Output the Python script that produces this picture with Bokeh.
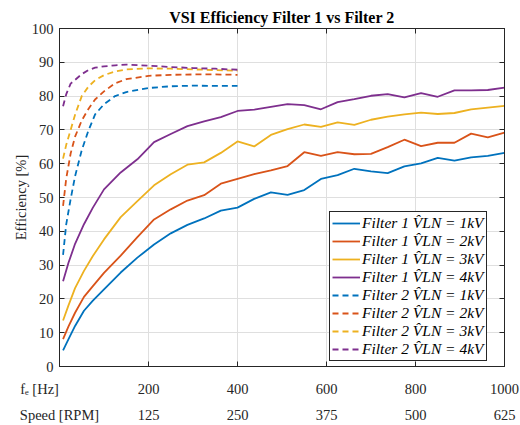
from bokeh.plotting import figure
from bokeh.models import FixedTicker, LinearAxis, Legend, LegendItem, Range1d
from bokeh.embed import file_html
from bokeh.resources import INLINE

# ---------------- data ----------------
# Filter 1 (solid lines), electrical frequency in Hz
freq_f1 = [8, 20, 35, 55, 75, 100, 137.5, 175, 212.5, 250, 287.5, 325, 362.5, 400,
           437.5, 475, 512.5, 550, 587.5, 625, 662.5, 700, 737.5, 775, 812.5, 850,
           887.5, 925, 962.5, 1000]
eff_f1_1kv = [4.8, 8.0, 12.0, 16.5, 19.5, 22.8, 27.8, 32.2, 36.1, 39.4, 41.9, 43.8, 46.1, 47.0,
              49.6, 51.5, 50.8, 52.2, 55.5, 56.6, 58.5, 57.7, 57.2, 59.2, 60.1, 61.7, 60.9,
              61.9, 62.3, 63.2]
eff_f1_2kv = [8.1, 11.8, 15.9, 20.6, 23.8, 27.7, 32.8, 38.3, 43.5, 46.5, 49.1, 50.7, 54.1, 55.5,
              56.9, 58.0, 59.3, 63.4, 62.3, 63.4, 62.8, 62.9, 64.9, 67.1, 65.2, 66.2, 66.2,
              68.9, 67.8, 69.2]
eff_f1_3kv = [13.6, 18.0, 23.2, 28.3, 32.7, 37.6, 44.2, 48.9, 53.6, 56.9, 59.7, 60.4, 63.2, 66.6,
              65.1, 68.5, 70.2, 71.6, 70.9, 72.2, 71.5, 73.0, 73.9, 74.6, 75.1, 74.7, 75.0,
              76.1, 76.6, 77.1]
eff_f1_4kv = [25.2, 30.6, 36.3, 42.1, 47.0, 52.4, 57.4, 61.3, 66.4, 68.8, 71.1, 72.5, 73.8, 75.6,
              76.0, 76.8, 77.6, 77.3, 76.1, 78.2, 79.1, 80.1, 80.6, 79.6, 80.9, 79.8, 81.7,
              81.7, 81.8, 82.5]

# Filter 2 (dashed lines)
freq_f2 = [8, 15, 25, 35, 50, 65, 80, 100, 125, 150, 200, 250, 300, 350, 400]
eff_f2_1kv = [33.0, 42.0, 49.5, 56.3, 64.0, 69.8, 74.6, 77.6, 80.0, 81.2, 82.4, 82.9, 83.1, 83.0, 83.0]
eff_f2_2kv = [47.5, 55.5, 63.0, 68.0, 72.8, 76.2, 79.0, 81.4, 83.8, 85.0, 86.0, 86.3, 86.4, 86.4, 86.3]
eff_f2_3kv = [61.5, 65.5, 70.0, 74.5, 80.0, 82.8, 84.7, 86.2, 87.3, 87.9, 88.2, 88.1, 87.9, 87.7, 87.5]
eff_f2_4kv = [77.0, 80.5, 83.7, 84.8, 86.5, 87.7, 88.4, 88.8, 89.1, 89.3, 89.0, 88.6, 88.3, 88.1, 87.8]

voltages = ["1kV", "2kV", "3kV", "4kV"]
colors = ["#0072BD", "#D95319", "#EDB120", "#7E2F8E"]

hz_ticks = [0, 200, 400, 600, 800, 1000]
NBSP = "\u00a0"
hz_labels = ["f\u2091 [Hz]" + NBSP * 11, "200", "400", "600", "800", "1000"]
rpm_labels = ["Speed [RPM]", "125", "250", "375", "500", "625"]
eff_ticks = [0, 10, 20, 30, 40, 50, 60, 70, 80, 90, 100]

FONT = "Liberation Serif"
TXT = "#262626"
FS = "14.5px"

p = figure(width=520, height=425,
           x_range=Range1d(0, 1000), y_range=Range1d(0, 100),
           output_backend="svg", toolbar_location=None,
           min_border_left=59, min_border_right=16, min_border_top=28, min_border_bottom=45,
           background_fill_color="white", border_fill_color="white")

p.title.text = "VSI Efficiency Filter 1 vs Filter 2"
p.title.align = "center"
p.title.text_font = FONT
p.title.text_font_style = "bold"
p.title.text_font_size = "16px"
p.title.text_color = "black"
p.title.standoff = 6

p.outline_line_color = TXT
p.outline_line_alpha = 1

def style_axis(ax):
    ax.axis_line_color = TXT
    ax.major_tick_line_color = TXT
    ax.major_tick_in = 5
    ax.major_tick_out = 0
    ax.minor_tick_line_color = None
    ax.major_label_text_font = FONT
    ax.major_label_text_font_size = FS
    ax.major_label_text_color = TXT

xa = p.xaxis[0]
style_axis(xa)
xa.ticker = FixedTicker(ticks=hz_ticks)
xa.major_label_overrides = dict(zip(hz_ticks, hz_labels))
xa.major_label_standoff = 14

ya = p.yaxis[0]
style_axis(ya)
ya.ticker = FixedTicker(ticks=eff_ticks)
ya.major_label_standoff = 6
ya.axis_label = "Efficiency [%]"
ya.axis_label_text_font = FONT
ya.axis_label_text_font_size = FS
ya.axis_label_text_font_style = "normal"
ya.axis_label_text_color = TXT
ya.axis_label_standoff = 0

rpm_axis = LinearAxis(ticker=FixedTicker(ticks=hz_ticks),
                      major_label_overrides=dict(zip(hz_ticks, rpm_labels)))
style_axis(rpm_axis)
rpm_axis.axis_line_color = None
rpm_axis.major_tick_line_color = None
rpm_axis.major_label_standoff = 7
p.add_layout(rpm_axis, "below")

for side, ticks in (("right", eff_ticks), ("above", hz_ticks)):
    ax = LinearAxis(ticker=FixedTicker(ticks=ticks))
    style_axis(ax)
    ax.major_label_text_font_size = "0px"
    ax.major_label_text_color = None
    ax.major_label_standoff = 0
    p.add_layout(ax, side)

p.xgrid.ticker = FixedTicker(ticks=hz_ticks)
p.ygrid.ticker = FixedTicker(ticks=eff_ticks)
p.xgrid.grid_line_color = "#dfdfdf"
p.ygrid.grid_line_color = "#dfdfdf"

items = []
for eff, c, v in zip([eff_f1_1kv, eff_f1_2kv, eff_f1_3kv, eff_f1_4kv], colors, voltages):
    r = p.line(freq_f1, eff, line_color=c, line_width=1.8)
    items.append(LegendItem(label=f"Filter 1 V\u0302LN = {v}", renderers=[r]))
for eff, c, v in zip([eff_f2_1kv, eff_f2_2kv, eff_f2_3kv, eff_f2_4kv], colors, voltages):
    r = p.line(freq_f2, eff, line_color=c, line_width=1.8, line_dash="6 4")
    items.append(LegendItem(label=f"Filter 2 V\u0302LN = {v}", renderers=[r]))

legend = Legend(items=items, location=(270, 5),
                label_text_font=FONT, label_text_font_style="italic",
                label_text_font_size="15.5px", label_text_color="black",
                border_line_color=TXT, border_line_width=1, border_line_alpha=1,
                background_fill_color="white", background_fill_alpha=1,
                padding=2, spacing=0, margin=0,
                glyph_width=28, glyph_height=18, label_height=18, label_standoff=2)
p.add_layout(legend)

open("out.html", "w").write(file_html(p, INLINE))
